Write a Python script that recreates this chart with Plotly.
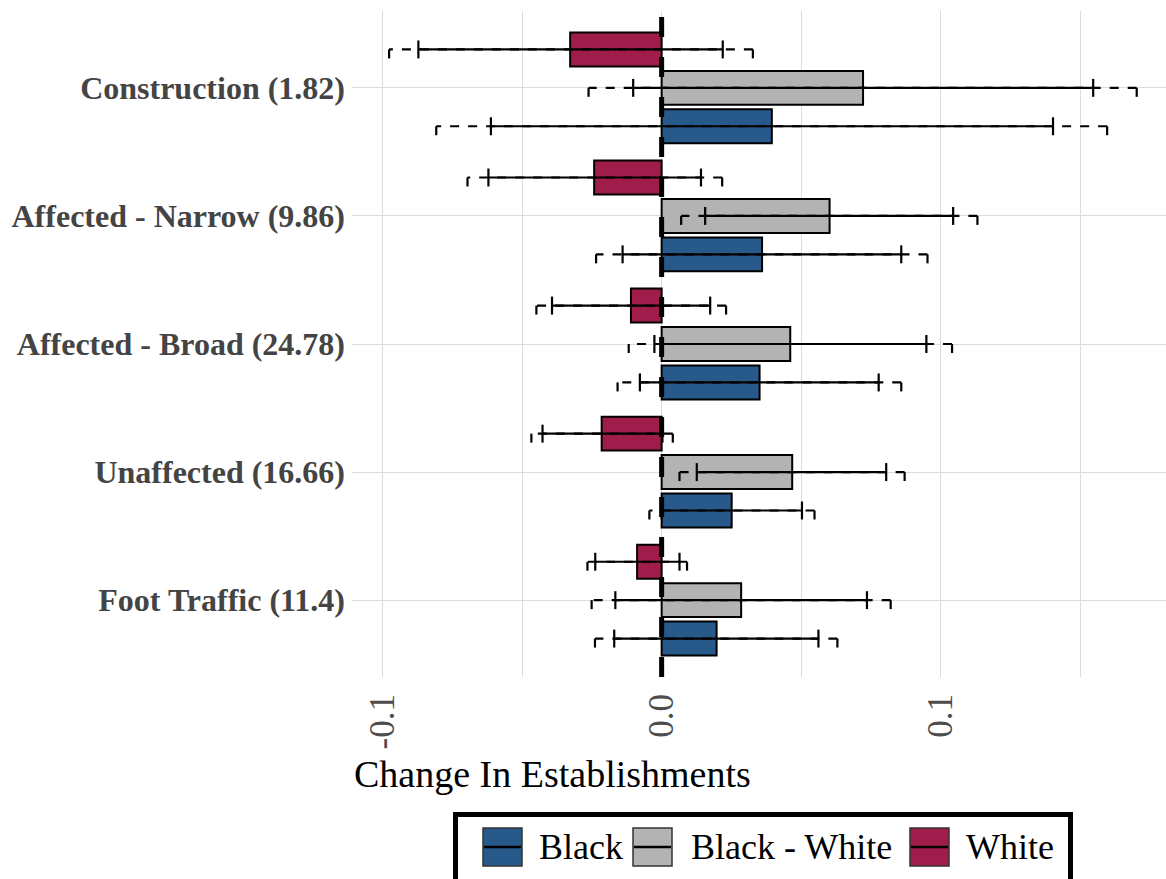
import plotly.graph_objects as go

# ---- data ----------------------------------------------------------------
categories = [
    "Construction (1.82)",
    "Affected - Narrow (9.86)",
    "Affected - Broad (24.78)",
    "Unaffected (16.66)",
    "Foot Traffic (11.4)",
]

white_est = [-0.0328, -0.0242, -0.0110, -0.0215, -0.0088]
white_lo90 = [-0.0872, -0.0621, -0.0393, -0.0427, -0.0238]
white_hi90 = [0.0219, 0.0141, 0.0174, 0.0003, 0.0064]
white_lo95 = [-0.0977, -0.0696, -0.0449, -0.0467, -0.0266]
white_hi95 = [0.0327, 0.0217, 0.0231, 0.0040, 0.0091]

gap_est = [0.0722, 0.0602, 0.0461, 0.0468, 0.0285]
gap_lo90 = [-0.0102, 0.0156, -0.0026, 0.0126, -0.0166]
gap_hi90 = [0.1547, 0.1045, 0.0949, 0.0805, 0.0736]
gap_lo95 = [-0.0262, 0.0070, -0.0118, 0.0064, -0.0251]
gap_hi95 = [0.1703, 0.1132, 0.1041, 0.0871, 0.0821]

black_est = [0.0395, 0.0360, 0.0351, 0.0251, 0.0197]
black_lo90 = [-0.0612, -0.0140, -0.0078, 0.0000, -0.0170]
black_hi90 = [0.1403, 0.0859, 0.0778, 0.0503, 0.0562]
black_lo95 = [-0.0808, -0.0235, -0.0158, -0.0044, -0.0239]
black_hi95 = [0.1597, 0.0953, 0.0859, 0.0548, 0.0630]

x_ticks = [-0.1, 0.0, 0.1]
x_ticktext = ["-0.1", "0.0", "0.1"]

legend_names = ["Black", "Black - White", "White"]

# ---- styling -------------------------------------------------------------
FONT = "Liberation Serif"
COL_BLACK = "#27598A"
COL_GAP = "#B3B3B3"
COL_WHITE = "#A01C4B"

series = [
    # name, estimate, ci90, ci95, colour, dodge offset (top -> bottom)
    ("White", white_est, white_lo90, white_hi90, white_lo95, white_hi95, COL_WHITE, -0.3),
    ("Black - White", gap_est, gap_lo90, gap_hi90, gap_lo95, gap_hi95, COL_GAP, 0.0),
    ("Black", black_est, black_lo90, black_hi90, black_lo95, black_hi95, COL_BLACK, 0.3),
]
legend_colors = {"Black": COL_BLACK, "Black - White": COL_GAP, "White": COL_WHITE}

BAR_W = 0.265
CAP = 0.07  # half height of an error-bar cap, in category units
LW = 2.2

fig = go.Figure()

# bars
for name, est, lo90, hi90, lo95, hi95, col, off in series:
    ys = [i + off for i in range(len(categories))]
    fig.add_trace(go.Bar(
        x=est, y=ys, orientation="h", width=BAR_W, base=0,
        marker=dict(color=col, line=dict(color="black", width=2)),
        showlegend=False, hoverinfo="skip", name=name,
    ))

# 95% intervals: dashed, drawn from the upper end toward the lower end
for name, est, lo90, hi90, lo95, hi95, col, off in series:
    for i in range(len(categories)):
        yc = i + off
        fig.add_trace(go.Scatter(
            x=[hi95[i], lo95[i]], y=[yc, yc], mode="lines",
            line=dict(color="black", width=LW, dash="9px,9px"),
            showlegend=False, hoverinfo="skip",
        ))
    cx, cy = [], []
    for i in range(len(categories)):
        yc = i + off
        for v in (lo95[i], hi95[i]):
            cx += [v, v, None]
            cy += [yc, yc + CAP, None]
    fig.add_trace(go.Scatter(
        x=cx, y=cy, mode="lines", line=dict(color="black", width=LW),
        showlegend=False, hoverinfo="skip",
    ))

# 90% intervals: solid with full caps
for name, est, lo90, hi90, lo95, hi95, col, off in series:
    lx, ly = [], []
    for i in range(len(categories)):
        yc = i + off
        lx += [lo90[i], hi90[i], None]
        ly += [yc, yc, None]
        for v in (lo90[i], hi90[i]):
            lx += [v, v, None]
            ly += [yc - CAP, yc + CAP, None]
    fig.add_trace(go.Scatter(
        x=lx, y=ly, mode="lines", line=dict(color="black", width=LW),
        showlegend=False, hoverinfo="skip",
    ))

# ---- layout --------------------------------------------------------------
W, H = 1166, 879
L, R, T, B = 352, 0, 11, 202
PW, PH = W - L - R, H - T - B


def px(xp):
    return (xp - L) / PW


def py(yp):
    return (H - B - yp) / PH


shapes = [
    dict(type="line", xref="x", yref="paper", x0=0, x1=0, y0=0, y1=1,
         line=dict(color="black", width=5, dash="20px,20px"), layer="above"),
]
annotations = [
    dict(text="Change In Establishments", xref="paper", yref="paper",
         x=px(352), y=py(774), xanchor="left", yanchor="middle", showarrow=False,
         font=dict(family=FONT, size=38, color="black")),
]

# legend box
shapes.append(dict(type="rect", xref="paper", yref="paper",
                   x0=px(455.5), x1=px(1070.5), y0=py(892), y1=py(814.5),
                   line=dict(color="black", width=5), fillcolor="white", layer="above"))
key_x = [483, 633, 910]
text_x = [537, 689, 964]
for nm, kx, tx in zip(legend_names, key_x, text_x):
    shapes.append(dict(type="rect", xref="paper", yref="paper",
                       x0=px(kx), x1=px(kx + 39), y0=py(866), y1=py(828),
                       line=dict(color="#333333", width=1.5),
                       fillcolor=legend_colors[nm], layer="above"))
    shapes.append(dict(type="line", xref="paper", yref="paper",
                       x0=px(kx + 1), x1=px(kx + 38), y0=py(847), y1=py(847),
                       line=dict(color="black", width=2.5), layer="above"))
    annotations.append(dict(text=nm, xref="paper", yref="paper",
                            x=px(tx), y=py(847), xanchor="left", yanchor="middle",
                            showarrow=False,
                            font=dict(family=FONT, size=36, color="black")))

fig.update_layout(
    width=W, height=H,
    margin=dict(l=L, r=R, t=T, b=B, pad=0),
    paper_bgcolor="white", plot_bgcolor="white",
    barmode="overlay",
    showlegend=False,
    shapes=shapes,
    annotations=annotations,
    xaxis=dict(
        range=[-0.111, 0.1808],
        tickmode="array", tickvals=x_ticks, ticktext=x_ticktext,
        tickangle=-90,
        tickfont=dict(family=FONT, size=35, color="#4D4D4D"),
        showgrid=True, gridcolor="#DCDCDC", gridwidth=1.4,
        minor=dict(tickmode="array", tickvals=[-0.05, 0.05, 0.15],
                   showgrid=True, gridcolor="#DCDCDC", gridwidth=1.4, ticks=""),
        zeroline=False, showline=False, ticks="",
        ticklabelstandoff=9,
        fixedrange=True,
    ),
    yaxis=dict(
        range=[len(categories) - 0.4, -0.6],
        tickmode="array", tickvals=list(range(len(categories))), ticktext=categories,
        tickfont=dict(family=FONT, size=32, color="#444444", weight="bold"),
        showgrid=True, gridcolor="#DCDCDC", gridwidth=1.4,
        zeroline=False, showline=False, ticks="",
        ticklabelstandoff=6,
        fixedrange=True,
    ),
)

fig.write_html("out.html")
